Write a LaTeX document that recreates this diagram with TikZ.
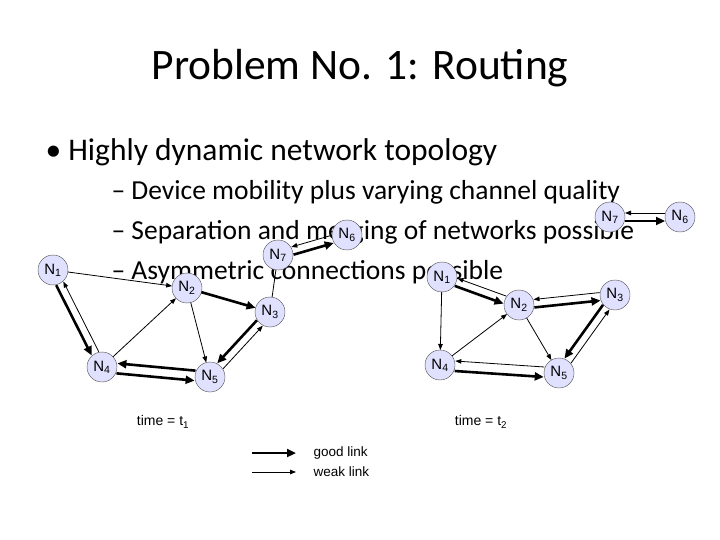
\documentclass[tikz,border=0pt]{standalone}
\usepackage{fontspec}
\setmainfont{Carlito}
\newfontfamily\arial{Liberation Sans}
\usetikzlibrary{calc,arrows.meta}
\tikzset{
 nd/.style={circle,draw=black!70,fill=blue!12,minimum size=30pt,inner sep=0pt,font=\arial\fontsize{15}{15}\selectfont},
 good/.style={line width=2.6pt,-{Triangle[length=9pt,width=8pt]}},
 weak/.style={line width=0.8pt,-{Triangle[length=6pt,width=4.5pt]}},
 plain/.style={line width=0.8pt},
}
\newcommand{\lnk}[4]{\draw[#1,shorten <=15pt,shorten >=15pt] ($(#2)!#4!-90:(#3)$) -- ($(#3)!#4!90:(#2)$);}
\newcommand{\Nn}[1]{N\textsubscript{#1}}
\begin{document}
\begin{tikzpicture}[x=1pt,y=-1pt]
\useasboundingbox (0,0) rectangle (720,540);
\node (title) at (360,68) {\fontsize{43.5}{43.5}\selectfont Problem No. 1: Routing};
\node[anchor=west] (b1) at (42,152) {\fontsize{31.5}{31.5}\selectfont • Highly dynamic network topology};
\node[anchor=west] (b2) at (108,192) {\fontsize{27.5}{27.5}\selectfont – Device mobility plus varying channel quality};
\node[anchor=west] (b3) at (108,232) {\fontsize{27.5}{27.5}\selectfont – Separation and merging of networks possible};
\node[anchor=west] (b4) at (108,272) {\fontsize{27.5}{27.5}\selectfont – Asymmetric connections possible};
% t1
\node[nd] (a1) at (53,270) {\Nn{1}};
\node[nd] (a2) at (187,288) {\Nn{2}};
\node[nd] (a3) at (270,312) {\Nn{3}};
\node[nd] (a4) at (102,367) {\Nn{4}};
\node[nd] (a5) at (210,377) {\Nn{5}};
\node[nd] (a7) at (278,255) {\Nn{7}};
\node[nd] (a6) at (347,235) {\Nn{6}};
\lnk{weak}{a1}{a2}{0pt}
\lnk{good}{a1}{a4}{4pt}
\lnk{weak}{a4}{a1}{4pt}
\lnk{good}{a2}{a3}{0pt}
\lnk{weak}{a4}{a2}{0pt}
\lnk{weak}{a2}{a5}{0pt}
\lnk{good}{a3}{a5}{4pt}
\lnk{weak}{a5}{a3}{4pt}
\lnk{good}{a5}{a4}{5pt}
\lnk{good}{a4}{a5}{5pt}
\lnk{plain}{a3}{a7}{0pt}
\lnk{weak}{a6}{a7}{4pt}
\lnk{good}{a7}{a6}{4pt}
\node[font=\arial\fontsize{14}{14}\selectfont] (t1) at (163,422) {time = t\textsubscript{1}};
% t2
\node[nd] (c1) at (442,277) {\Nn{1}};
\node[nd] (c2) at (519,305) {\Nn{2}};
\node[nd] (c3) at (615,295) {\Nn{3}};
\node[nd] (c4) at (440,365) {\Nn{4}};
\node[nd] (c5) at (559,373) {\Nn{5}};
\node[nd] (c7) at (610,217) {\Nn{7}};
\node[nd] (c6) at (680,217) {\Nn{6}};
\lnk{weak}{c6}{c7}{4pt}
\lnk{good}{c7}{c6}{4pt}
\lnk{good}{c1}{c2}{4pt}
\lnk{weak}{c2}{c1}{4pt}
\lnk{weak}{c1}{c4}{0pt}
\lnk{good}{c2}{c3}{4pt}
\lnk{weak}{c3}{c2}{4pt}
\lnk{weak}{c4}{c2}{0pt}
\lnk{weak}{c2}{c5}{0pt}
\lnk{good}{c3}{c5}{4pt}
\lnk{weak}{c5}{c3}{4pt}
\lnk{weak}{c5}{c4}{5pt}
\lnk{good}{c4}{c5}{5pt}
\node[font=\arial\fontsize{14}{14}\selectfont] (t2) at (481,422) {time = t\textsubscript{2}};
% legend
\coordinate (g1) at (252,453); \coordinate (g2) at (296,453);
\coordinate (w1) at (252,472); \coordinate (w2) at (296,472);
\draw[good] (g1) -- (g2);
\draw[weak] (w1) -- (w2);
\node[anchor=west,font=\arial\fontsize{13.5}{13.5}\selectfont] (lg) at (310,453) {good link};
\node[anchor=west,font=\arial\fontsize{13.5}{13.5}\selectfont] (lw) at (310,472) {weak link};
\end{tikzpicture}
\end{document}
